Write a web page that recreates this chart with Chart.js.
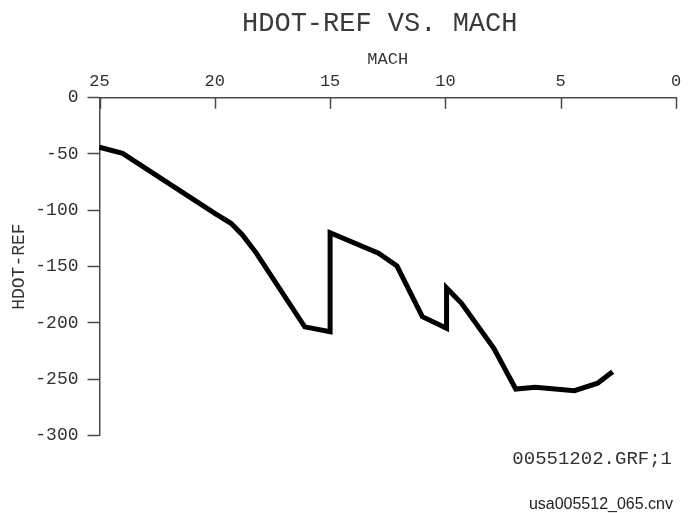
<!DOCTYPE html>
<html>
<head>
<meta charset="utf-8">
<script src="https://cdn.jsdelivr.net/npm/chart.js@4/dist/chart.umd.min.js"></script>
<style>
  html, body { margin: 0; padding: 0; background: #fff; }
  #wrap { position: relative; width: 693px; height: 513px; }
  #c { position: absolute; left: 0; top: 0; }
  .note { position: absolute; white-space: nowrap; color: #333; }
  #grf { right: 21px; top: 450px; font: 19px/19px "Liberation Mono", monospace; }
  #cnv { right: 20px; top: 496px; font: 16px/16px "Liberation Sans", Arial, sans-serif; color: #222; }
</style>
</head>
<body>
<div id="wrap">
  <canvas id="c" width="693" height="513"></canvas>
  <div class="note" id="grf">00551202.GRF;1</div>
  <div class="note" id="cnv">usa005512_065.cnv</div>
</div>
<script>
const titleText = "HDOT-REF VS. MACH";
const xAxisLabel = "MACH";
const yAxisLabel = "HDOT-REF";
const xTicks = [25, 20, 15, 10, 5, 0];
const yTicks = [0, -50, -100, -150, -200, -250, -300];
const mach = [25, 24, 22, 20, 19.3, 18.8, 18.2, 16.1, 15.0, 15.0, 12.9, 12.1, 11.0, 9.95, 9.95, 9.3, 7.9, 6.95, 6.1, 4.4, 3.4, 2.75];
const hdot = [-44, -49.5, -76, -102.7, -111.5, -121.9, -138, -203.5, -207.8, -120, -138.2, -149.5, -194.5, -204.8, -169, -182.6, -222.6, -258.7, -257.2, -260.2, -253.6, -243.3];

const axisColor = '#4a4a4a';
const textColor = '#333';
const mono = '"Liberation Mono", monospace';

// inward tick marks on the top (x) axis, positioned by the scale;
// and centre the title over the plot area
const innerTicks = {
  id: 'innerTicks',
  afterLayout(chart) {
    if (chart.titleBlock) {
      chart.titleBlock.left = chart.chartArea.left - 8;
      chart.titleBlock.right = chart.chartArea.right - 8;
    }
  },
  afterDraw(chart) {
    const xs = chart.scales.x, ctx = chart.ctx;
    const top = chart.chartArea.top;
    ctx.save();
    ctx.strokeStyle = axisColor;
    ctx.lineWidth = 1.5;
    ctx.beginPath();
    xTicks.forEach(v => {
      const px = Math.round(xs.getPixelForValue(v)) + 0.5;
      ctx.moveTo(px, top);
      ctx.lineTo(px, top + 11);
    });
    ctx.stroke();
    ctx.restore();
  }
};

new Chart(document.getElementById('c'), {
  type: 'line',
  data: {
    datasets: [{
      data: mach.map((m, i) => ({ x: m, y: hdot[i] })),
      borderColor: '#000',
      borderWidth: 5,
      pointRadius: 0,
      tension: 0,
      fill: false,
      clip: false
    }]
  },
  plugins: [innerTicks],
  options: {
    responsive: false,
    animation: false,
    events: [],
    layout: { padding: { left: 0, right: 17, top: 0, bottom: 77.5 } },
    plugins: {
      legend: { display: false },
      tooltip: { enabled: false },
      title: {
        display: true,
        text: titleText,
        color: '#3a3a3a',
        font: { family: mono, size: 27, weight: 'normal', lineHeight: 1.2 },
        padding: { top: 7.5, bottom: 2 }
      }
    },
    scales: {
      x: {
        type: 'linear',
        position: 'top',
        reverse: true,
        min: 0,
        max: 25,
        afterBuildTicks(scale) { scale.ticks = xTicks.map(v => ({ value: v })); },
        afterFit(scale) { scale.height = 55.8; },
        ticks: {
          color: textColor,
          font: { family: mono, size: 17 },
          padding: 2,
          maxRotation: 0,
          callback: v => String(v)
        },
        grid: { display: true, drawOnChartArea: false, drawTicks: true, tickLength: 4, color: 'rgba(0,0,0,0)' },
        border: { display: true, color: axisColor, width: 1.5 },
        title: {
          display: true,
          text: xAxisLabel,
          color: textColor,
          font: { family: mono, size: 17 },
          padding: { top: 7, bottom: 0 }
        }
      },
      y: {
        type: 'linear',
        min: -300,
        max: 0,
        afterBuildTicks(scale) { scale.ticks = yTicks.map(v => ({ value: v })); },
        afterFit(scale) { scale.width = 99.5; },
        ticks: {
          color: textColor,
          font: { family: mono, size: 18 },
          padding: 9,
          callback: v => String(v)
        },
        grid: { display: true, drawOnChartArea: false, drawTicks: true, tickLength: 12, tickWidth: 1.5, tickColor: axisColor },
        border: { display: true, color: axisColor, width: 1.5 },
        title: {
          display: true,
          text: yAxisLabel,
          color: textColor,
          font: { family: mono, size: 18 },
          padding: { top: 8, bottom: 0 }
        }
      }
    }
  }
});
</script>
</body>
</html>
